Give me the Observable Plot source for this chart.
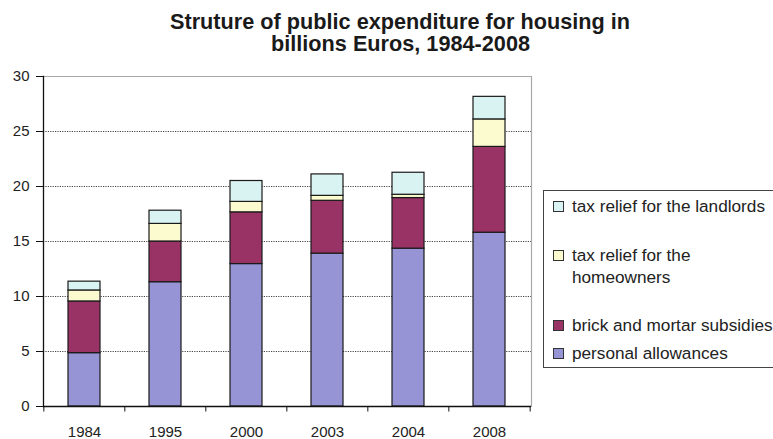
<!DOCTYPE html>
<html>
<head>
<meta charset="utf-8">
<script src="https://cdn.jsdelivr.net/npm/d3@7"></script>
<script src="https://cdn.jsdelivr.net/npm/@observablehq/plot@0.6"></script>
<style>
  html, body { margin: 0; padding: 0; background: #fff; overflow: hidden; }
  #wrap { position: relative; width: 773px; height: 439px; }
  .tline { position: absolute; top: 0; left: 0; white-space: nowrap;
    font-family: "Liberation Sans", Arial, sans-serif;
    font-weight: bold; font-size: 21.5px; line-height: 22px; color: #1a1a1a; transform-origin: 0 0; }
  #legend { position: absolute; left: 543px; top: 190px; width: 260px; height: 178px;
    border: 1px solid #444; box-sizing: border-box; background: #fff;
    font-family: "Liberation Sans", Arial, sans-serif; font-size: 17.2px; color: #222; }
  .item { position: absolute; left: 9px; line-height: 22px; white-space: nowrap; }
  .sw { position: absolute; left: 0; top: 6px; width: 9px; height: 9px; border: 1px solid #333; }
  .lab { position: absolute; left: 19px; top: 0; }
</style>
</head>
<body>
<div id="wrap">
  <div id="legend"></div>
</div>
<script>
const titleLines = ["Struture of public expenditure for housing in", "billions Euros, 1984-2008"];
const years = ["1984", "1995", "2000", "2003", "2004", "2008"];
const seriesNames = ["personal allowances", "brick and mortar subsidies", "tax relief for the homeowners", "tax relief for the landlords"];
const personal = [4.85, 11.3, 12.95, 13.9, 14.35, 15.8];
const brick = [4.7, 3.7, 4.7, 4.8, 4.6, 7.8];
const homeowners = [1.0, 1.6, 0.95, 0.45, 0.3, 2.5];
const landlords = [0.8, 1.2, 1.9, 1.95, 2.0, 2.05];
const colors = ["#9694d4", "#993366", "#fcfacf", "#d8f3f1"];
const yTicks = [0, 5, 10, 15, 20, 25, 30];

const seriesValues = [personal, brick, homeowners, landlords];
const data = [];
years.forEach((yr, i) => {
  seriesNames.forEach((s, j) => data.push({year: yr, series: s, value: seriesValues[j][i]}));
});

const W = 773, H = 439, mL = 43, mR = 242;
const step = (W - mL - mR) / years.length;

const chart = Plot.plot({
  width: W, height: H,
  marginTop: 76, marginBottom: 33, marginLeft: mL, marginRight: mR,
  style: {fontFamily: "Liberation Sans, Arial, sans-serif", fontSize: "15px", color: "#222", background: "transparent"},
  x: {domain: years, paddingInner: 0.6, paddingOuter: 0.3, label: null},
  y: {domain: [0, 30], label: null},
  color: {domain: seriesNames, range: colors},
  marks: [
    Plot.gridY(yTicks.filter(d => d > 0 && d < 30), {stroke: "#444", strokeOpacity: 1, strokeDasharray: "1.2,1.2"}),
    Plot.ruleY([30], {stroke: "#a8a8a8", strokeWidth: 1.2}),
    Plot.frame({anchor: "right", stroke: "#a8a8a8", strokeWidth: 1.2}),
    Plot.barY(data, Plot.stackY({x: "year", y: "value", fill: "series", stroke: "#1a1a1a", strokeWidth: 1.2, order: seriesNames})),
    Plot.ruleX(years, {x: d => d, y1: 0, y2: -0.5, dx: -step / 2, stroke: "#111"}),
    Plot.ruleX(years.slice(-1), {x: d => d, y1: 0, y2: -0.5, dx: step / 2, stroke: "#111"}),
    Plot.frame({anchor: "left", stroke: "#111", strokeWidth: 1.3}),
    Plot.ruleY([0], {stroke: "#111", strokeWidth: 1.3}),
    Plot.axisY({ticks: yTicks, tickSize: 7, tickPadding: 7, stroke: "#111", fill: "#222", fontSize: 15, label: null}),
    Plot.axisX({tickSize: 0, tickPadding: 20, fill: "#222", fontSize: 15, label: null})
  ]
});
chart.style.position = "absolute";
chart.style.left = "0px";
chart.style.top = "0px";
const wrap = document.getElementById("wrap");
wrap.insertBefore(chart, wrap.firstChild);

// title lines, centred at x = 400 as in the reference
const titleWidths = [460, 259];
const titleCenter = 400;
const titleTops = [11, 33];
titleLines.forEach((t, i) => {
  const el = document.createElement("div");
  el.className = "tline";
  el.textContent = t;
  wrap.appendChild(el);
  const w = el.getBoundingClientRect().width;
  const s = titleWidths[i] / w;
  el.style.left = (titleCenter - titleWidths[i] / 2) + "px";
  el.style.top = titleTops[i] + "px";
  el.style.transform = `scaleX(${s})`;
});

// legend (top to bottom: reverse of stacking order)
const legend = document.getElementById("legend");
const legendTops = [4, 53, 123, 151];
const legendOrder = [3, 2, 1, 0];
legendOrder.forEach((j, k) => {
  const it = document.createElement("div");
  it.className = "item";
  it.style.top = legendTops[k] + "px";
  const sw = document.createElement("div");
  sw.className = "sw";
  sw.style.background = colors[j];
  const lab = document.createElement("div");
  lab.className = "lab";
  if (j === 2) {
    lab.innerHTML = "tax relief for the<br>homeowners";
  } else {
    lab.textContent = seriesNames[j];
  }
  it.appendChild(sw);
  it.appendChild(lab);
  legend.appendChild(it);
});
</script>
</body>
</html>
